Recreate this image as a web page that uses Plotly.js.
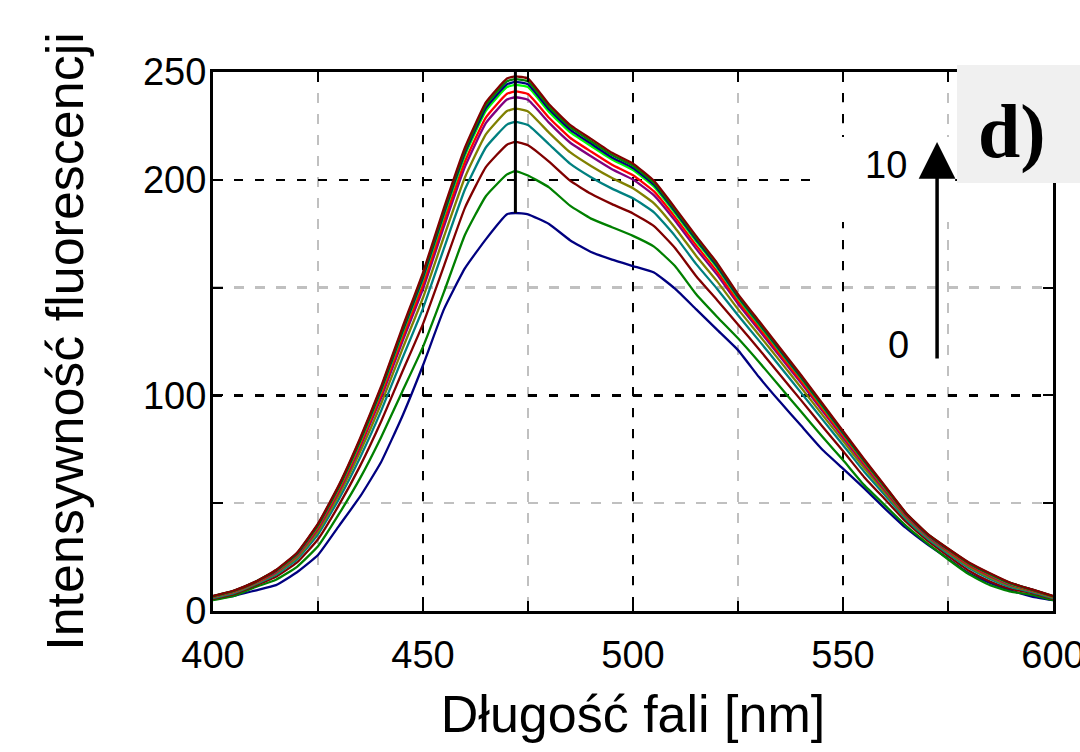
<!DOCTYPE html>
<html>
<head>
<meta charset="utf-8">
<script src="https://cdn.plot.ly/plotly-3.0.1.min.js"></script>
<style>
html,body{margin:0;padding:0;background:#ffffff;}
#chart{width:1080px;height:752px;}
</style>
</head>
<body>
<div id="chart"></div>
<script>
// ---- data ----
const wavelength = [400,405,410,415,420,425,430,435,440,445,450,455,460,465,470,472,475,480,485,490,495,500,505,510,515,520,525,530,535,540,545,550,555,560,565,570,575,580,585,590,595,600];

const series0  = [5.5,7,9.5,12,18,26,39.5,53,69,90,114,140,159,172.5,184,184.6,184,179.5,172,166.5,163,160,157,149.5,140,130.5,121,108.5,97,86,75,66,57,47.5,38.5,31,24.3,17.5,13,9.5,6.7,5];
const series1  = [5,7,11,14.5,20.5,30,45,61.5,80.5,101.5,122.5,148,174.5,192.5,202.5,204,202,196.5,188,182,178,174,169,160,147,136.5,126.5,115.5,104,92.5,81,70,58.5,49,39.5,31.5,24,17,12,9,7.5,5];
const series2  = [5.6,7.8,11.8,15.9,22.5,33.3,49.2,67.2,87.8,110.6,133.2,160.1,187.1,206,216.3,217.6,216,208.4,199.6,193.5,188.7,184.4,178.5,168.4,155.4,144.3,132.9,121.4,109.6,97.8,85.8,74.2,62.2,51.8,41.4,32.9,25.6,18.7,13.7,10.2,8.3,5.6];
const series3  = [6,8.3,12.3,16.8,23.9,35.5,52,71.1,92.7,116.8,140.4,168.3,195.6,215.1,225.6,226.9,225.4,216.5,207.5,201.2,195.9,191.4,184.9,174,161,149.5,137.2,125.4,113.4,101.3,89.1,77,64.7,53.7,42.6,33.8,26.6,19.9,14.9,11.1,8.8,6];
const series4  = [6.3,8.7,12.7,17.5,24.8,36.9,53.9,73.7,96,121,145.3,173.7,201.2,221.2,231.9,233,231.7,221.9,212.8,206.4,200.8,196.1,189.1,177.8,164.8,153,140,128,115.9,103.7,91.2,78.9,66.4,54.9,43.5,34.5,27.3,20.6,15.6,11.6,9.2,6.3];
const series5  = [6.6,9,13,18,25.6,38.2,55.5,75.9,98.8,124.5,149.4,178.4,206.1,226.4,237.2,238.3,237.1,226.5,217.3,210.9,204.9,200.1,192.8,181.1,168.1,156,142.5,130.3,118,105.8,93.1,80.5,67.9,56,44.2,35,27.9,21.3,16.3,12.1,9.5,6.6];
const series6  = [6.7,9.1,13.1,18.3,26,38.8,56.3,77,100.2,126.3,151.5,180.8,208.5,229,239.9,241,239.8,228.8,219.5,213.1,207,202.1,194.6,182.7,169.7,157.5,143.7,131.5,119.1,106.8,94,81.3,68.6,56.6,44.5,35.3,28.2,21.6,16.6,12.4,9.6,6.7];
const series7  = [6.8,9.3,13.3,18.6,26.4,39.6,57.3,78.3,101.9,128.3,153.9,183.5,211.4,232.1,243,244,243,231.5,222.1,215.7,209.4,204.5,196.8,184.6,171.6,159.3,145.2,132.8,120.4,108,95.1,82.3,69.4,57.2,45,35.6,28.6,22,17,12.6,9.8,6.8];
const series8  = [6.9,9.4,13.4,18.7,26.6,39.9,57.7,78.9,102.6,129.2,154.9,184.7,212.6,233.4,244.3,245.4,244.3,232.7,223.3,216.8,210.4,205.5,197.7,185.4,172.4,160,145.8,133.4,120.9,108.5,95.6,82.7,69.8,57.5,45.1,35.7,28.7,22.2,17.2,12.8,9.9,6.9];
const series9  = [6.9,9.4,13.4,18.9,26.8,40.2,58.1,79.4,103.3,130.1,156,185.8,213.8,234.7,245.7,246.7,245.7,233.8,224.4,217.9,211.5,206.5,198.6,186.2,173.2,160.8,146.4,133.9,121.5,109,96,83.1,70.1,57.7,45.3,35.9,28.9,22.3,17.3,12.9,9.9,6.9];
const series10 = [7,9.5,13.5,19,27,40.5,58.5,80,104,131,157,187,215,236,247,248,247,235,225.5,219,212.5,207.5,199.5,187,174,161.5,147,134.5,122,109.5,96.5,83.5,70.5,58,45.5,36,29,22.5,17.5,13,10,7];

const seriesColors = ['#000080','#008000','#800000','#008080','#808000','#800080','#ff0000','#00ff00','#000080','#008000','#800000'];

const xTickVals = [400,450,500,550,600];
const yTickVals = [0,100,200,250];
const yTickText = ['0','100','200','250'];
const yMinorVals = [50,150];

const peakWavelength = 472;
const arrowLabelLow = '0';
const arrowLabelHigh = '10';
const panelLabel = 'd)';
const xTitle = 'Długość fali [nm]';
const yTitle = 'Intensywność fluorescencji';

// ---- chart ----
const allSeries = [series0,series1,series2,series3,series4,series5,series6,series7,series8,series9,series10];
const traces = allSeries.map((s, i) => ({
  x: wavelength, y: s, type: 'scatter', mode: 'lines',
  line: {color: seriesColors[i], width: 2.3, shape: 'spline', smoothing: 0.4},
  showlegend: false, hoverinfo: 'skip'
}));

const peakIdx = wavelength.indexOf(peakWavelength);
const sansFont = 'Liberation Sans, Arial, sans-serif';

const layout = {
  width: 1080, height: 752,
  margin: {l: 213, r: 27, t: 72, b: 141, pad: 0},
  paper_bgcolor: '#ffffff', plot_bgcolor: '#ffffff',
  showlegend: false,
  font: {family: sansFont, color: '#000000', size: 38},
  xaxis: {
    range: [400, 600], tickmode: 'array', tickvals: xTickVals,
    ticks: 'inside', ticklen: 10, tickwidth: 2, tickcolor: '#000',
    showline: true, linecolor: '#000', linewidth: 3, mirror: 'ticks',
    showgrid: true, gridcolor: '#000', gridwidth: 2.5, griddash: '9px,12px',
    zeroline: false,
    minor: {tickmode: 'linear', tick0: 400, dtick: 25, showgrid: true, gridcolor: '#c0c0c0', gridwidth: 2.5, griddash: '10px,11px', ticks: 'inside', ticklen: 10, tickwidth: 2, tickcolor: '#000'},
    tickfont: {size: 38, family: sansFont, color: '#000'},
    ticklabelstandoff: 8,
    ticklabeloverflow: 'allow',
    title: {text: xTitle, font: {size: 52, family: sansFont, color: '#000'}, standoff: 22}
  },
  yaxis: {
    range: [0, 250], tickmode: 'array', tickvals: yTickVals, ticktext: yTickText,
    ticks: 'inside', ticklen: 10, tickwidth: 2, tickcolor: '#000',
    showline: true, linecolor: '#000', linewidth: 3, mirror: 'ticks',
    showgrid: true, gridcolor: '#000', gridwidth: 2.5, griddash: '9px,12px',
    zeroline: false,
    minor: {tickmode: 'array', tickvals: yMinorVals, showgrid: true, gridcolor: '#c0c0c0', gridwidth: 2.5, griddash: '10px,11px', ticks: 'inside', ticklen: 10, tickwidth: 2, tickcolor: '#000'},
    tickfont: {size: 38, family: sansFont, color: '#000'},
    ticklabelstandoff: -4,
    ticklabeloverflow: 'allow',
    title: {text: yTitle, font: {size: 52, family: sansFont, color: '#000'}, standoff: 43}
  },
  shapes: [
    {type: 'rect', xref: 'x', yref: 'y', x0: 545, x1: 576.7, y0: 180.4, y1: 219.9, fillcolor: '#ffffff', line: {width: 0}, layer: 'between'},
    {type: 'line', xref: 'x', yref: 'y', x0: peakWavelength, x1: peakWavelength, y0: series0[peakIdx], y1: 250, line: {color: '#000', width: 3}, layer: 'above'},
    {type: 'rect', xref: 'paper', yref: 'paper', x0: 0.8857, x1: 1.06, y0: 0.794, y1: 1.013, fillcolor: '#f0f0f0', line: {width: 0}, layer: 'above'}
  ],
  annotations: [
    {x: 572.4, y: 217.5, xref: 'x', yref: 'y', ax: 572.4, ay: 116.4, axref: 'x', ayref: 'y', text: '', showarrow: true, arrowhead: 2, arrowsize: 2.1, arrowwidth: 3.5, arrowcolor: '#000', standoff: 0},
    {x: 560.2, y: 206.9, xref: 'x', yref: 'y', xanchor: 'center', yanchor: 'middle', text: arrowLabelHigh, showarrow: false, font: {size: 38, family: sansFont, color: '#000'}},
    {x: 563.3, y: 123.4, xref: 'x', yref: 'y', xanchor: 'center', yanchor: 'middle', text: arrowLabelLow, showarrow: false, font: {size: 38, family: sansFont, color: '#000'}},
    {x: 0.9506, y: 0.89, xref: 'paper', yref: 'paper', xanchor: 'center', yanchor: 'middle', text: '<b>' + panelLabel + '</b>', showarrow: false, font: {size: 76, family: 'Liberation Serif, Times New Roman, serif', color: '#000'}}
  ]
};

Plotly.newPlot('chart', traces, layout, {staticPlot: true, displayModeBar: false});
</script>
</body>
</html>
